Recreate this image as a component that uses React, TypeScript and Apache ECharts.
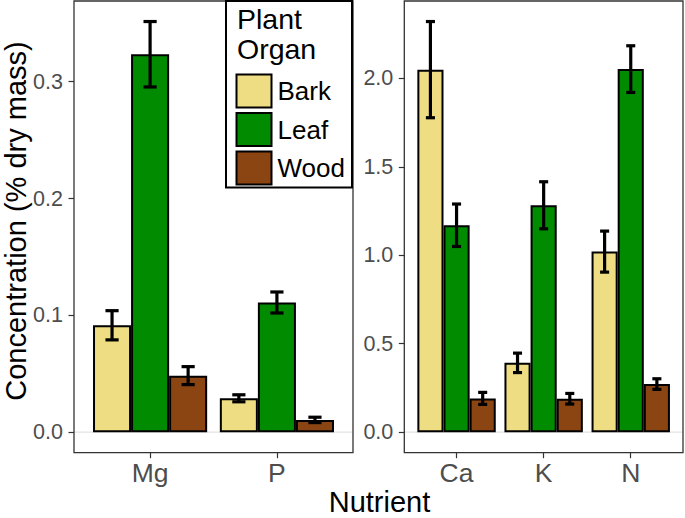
import React, { useEffect, useRef } from 'react';
import * as echarts from 'echarts';

const organs = ['Bark', 'Leaf', 'Wood'];
const organColors = ['#EEDD82', '#008B00', '#8B4513'];

const leftNutrients = ['Mg', 'P'];
const rightNutrients = ['Ca', 'K', 'N'];

// means (% dry mass)
const leftBark = [0.0915, 0.029];
const leftLeaf = [0.3235, 0.111];
const leftWood = [0.0484, 0.0105];
// standard errors
const leftBarkSe = [0.0125, 0.003];
const leftLeafSe = [0.028, 0.009];
const leftWoodSe = [0.0077, 0.0023];

const rightBark = [2.05, 0.392, 1.021];
const rightLeaf = [1.17, 1.283, 2.053];
const rightWood = [0.191, 0.189, 0.272];
const rightBarkSe = [0.272, 0.055, 0.116];
const rightLeafSe = [0.12, 0.133, 0.132];
const rightWoodSe = [0.034, 0.03, 0.03];

const leftTicks = [0, 0.1, 0.2, 0.3];
const rightTicks = [0, 0.5, 1.0, 1.5, 2.0];

const FONT = "'Liberation Sans', Arial, Helvetica, sans-serif";

// layout (pixels)
const W = 685;
const H = 518;
const PANEL_TOP = 1;
const PANEL_BOTTOM = 452.7;
const panels = [
  { x0: 74, x1: 353, n: 2 },
  { x0: 404.3, x1: 683, n: 3 },
];

function panelGrid(p: { x0: number; x1: number; n: number }) {
  const u = (p.x1 - p.x0) / (p.n - 1 + 1.2);
  return { left: p.x0 + 0.1 * u, width: p.n * u, offset: 0.1 * u };
}

function range(means: number[][], ses: number[][]) {
  let mx = 0;
  means.forEach((arr, i) => arr.forEach((m, j) => { mx = Math.max(mx, m + ses[i][j]); }));
  return { min: -0.05 * mx, max: 1.05 * mx };
}

const errRender = (pos: number) => (params: any, api: any) => {
  const xi = api.value(0);
  const m = api.value(1);
  const se = api.value(2);
  const band = api.size([1, 0])[0];
  const cx = api.coord([xi, m])[0] + (pos - 1) * band * 0.3;
  const yt = api.coord([xi, m + se])[1];
  const yb = api.coord([xi, m - se])[1];
  const hw = band * 0.052;
  const style = { stroke: '#000', lineWidth: 3.2, fill: null };
  return {
    type: 'group',
    children: [
      { type: 'line', shape: { x1: cx, y1: yt, x2: cx, y2: yb }, style },
      { type: 'line', shape: { x1: cx - hw, y1: yt, x2: cx + hw, y2: yt }, style },
      { type: 'line', shape: { x1: cx - hw, y1: yb, x2: cx + hw, y2: yb }, style },
    ],
  };
};

export default function App() {
  const ref = useRef<HTMLDivElement>(null);

  useEffect(() => {
    if (!ref.current) return;
    const chart = echarts.init(ref.current, undefined, { renderer: 'svg' });

    const gL = panelGrid(panels[0]);
    const gR = panelGrid(panels[1]);
    const rL = range([leftBark, leftLeaf, leftWood], [leftBarkSe, leftLeafSe, leftWoodSe]);
    const rR = range([rightBark, rightLeaf, rightWood], [rightBarkSe, rightLeafSe, rightWoodSe]);

    const leftMeans = [leftBark, leftLeaf, leftWood];
    const leftSes = [leftBarkSe, leftLeafSe, leftWoodSe];
    const rightMeans = [rightBark, rightLeaf, rightWood];
    const rightSes = [rightBarkSe, rightLeafSe, rightWoodSe];

    const series: any[] = [];
    [0, 1].forEach((gi) => {
      const means = gi === 0 ? leftMeans : rightMeans;
      const ses = gi === 0 ? leftSes : rightSes;
      organs.forEach((org, k) => {
        series.push({
          type: 'bar',
          name: org,
          xAxisIndex: gi,
          yAxisIndex: gi,
          data: means[k],
          barGap: '0%',
          barCategoryGap: '10%',
          itemStyle: { color: organColors[k], borderColor: '#000', borderWidth: 2 },
          emphasis: { disabled: true },
          z: 2,
        });
      });
      organs.forEach((org, k) => {
        series.push({
          type: 'custom',
          name: org + ' SE',
          xAxisIndex: gi,
          yAxisIndex: gi,
          renderItem: errRender(k),
          data: means[k].map((m, i) => [i, m, ses[k][i]]),
          encode: { x: 0, y: 1 },
          z: 5,
          silent: true,
        });
      });
    });

    const tickStyle = { color: '#333333', width: 1.2 };
    const yAxisBase = (gi: number, r: { min: number; max: number }, ticks: number[], offset: number) => ({
      type: 'value',
      gridIndex: gi,
      min: r.min,
      max: r.max,
      offset,
      axisLine: { show: false },
      splitLine: { show: false },
      axisTick: { show: true, customValues: ticks, length: 5.5, lineStyle: tickStyle },
      axisLabel: {
        customValues: ticks,
        formatter: (v: number) => v.toFixed(1),
        margin: 11,
        fontSize: 21.5,
        color: '#4D4D4D',
        fontFamily: FONT,
      },
    });
    const xAxisBase = (gi: number, cats: string[]) => ({
      type: 'category',
      gridIndex: gi,
      data: cats,
      axisLine: { show: false, onZero: false },
      axisTick: { show: true, alignWithLabel: true, length: 5.5, lineStyle: tickStyle },
      axisLabel: { fontSize: 26.5, color: '#4D4D4D', margin: 7, fontFamily: FONT },
    });

    const staticGraphics: any[] = [
      ...panels.map((p, i) => ({
        id: 'panel' + i,
        type: 'rect',
        z: 1,
        shape: { x: p.x0, y: PANEL_TOP, width: p.x1 - p.x0, height: PANEL_BOTTOM - PANEL_TOP },
        style: { fill: null, stroke: '#333333', lineWidth: 1.3 },
        silent: true,
      })),
      {
        id: 'legendBox',
        type: 'rect',
        z: 15,
        shape: { x: 226, y: 1, width: 126, height: 186.5 },
        style: { fill: '#ffffff', stroke: '#000000', lineWidth: 2 },
        silent: true,
      },
      {
        id: 'legendTitle',
        type: 'text',
        z: 16,
        x: 237,
        y: 3.5,
        style: {
          text: 'Plant\nOrgan',
          font: `28.5px ${FONT}`,
          fill: '#000',
          lineHeight: 30,
          align: 'left',
          verticalAlign: 'top',
        },
        silent: true,
      },
      {
        id: 'yTitle',
        type: 'text',
        z: 16,
        x: 16,
        y: 221,
        rotation: Math.PI / 2,
        style: {
          text: 'Concentration (% dry mass)',
          font: `29px ${FONT}`,
          fill: '#000',
          align: 'center',
          verticalAlign: 'middle',
        },
        silent: true,
      },
      {
        id: 'xTitle',
        type: 'text',
        z: 16,
        x: 379.5,
        y: 502,
        style: {
          text: 'Nutrient',
          font: `29px ${FONT}`,
          fill: '#000',
          align: 'center',
          verticalAlign: 'middle',
        },
        silent: true,
      },
    ];

    chart.setOption({
      animation: false,
      backgroundColor: '#ffffff',
      textStyle: { fontFamily: FONT },
      grid: [
        { left: gL.left, width: gL.width, top: PANEL_TOP, height: PANEL_BOTTOM - PANEL_TOP, containLabel: false },
        { left: gR.left, width: gR.width, top: PANEL_TOP, height: PANEL_BOTTOM - PANEL_TOP, containLabel: false },
      ],
      xAxis: [xAxisBase(0, leftNutrients), xAxisBase(1, rightNutrients)],
      yAxis: [yAxisBase(0, rL, leftTicks, gL.offset), yAxisBase(1, rR, rightTicks, gR.offset)],
      legend: {
        data: organs,
        orient: 'vertical',
        left: 235.5,
        top: 73.5,
        padding: 0,
        itemWidth: 35,
        itemHeight: 33,
        itemGap: 3.5,
        icon: 'rect',
        selectedMode: false,
        z: 20,
        textStyle: { fontSize: 26, color: '#000', fontFamily: FONT, padding: [0, 0, 0, 1] },
        itemStyle: { borderColor: '#000', borderWidth: 2 },
      },
      series,
      graphic: { elements: staticGraphics },
    });

    const y0L = chart.convertToPixel({ yAxisIndex: 0 }, 0) as number;
    const y0R = chart.convertToPixel({ yAxisIndex: 1 }, 0) as number;
    chart.setOption({
      graphic: {
        elements: [
          ...staticGraphics,
          {
            id: 'zero0', type: 'line', z: 0,
            shape: { x1: panels[0].x0, y1: y0L, x2: panels[0].x1, y2: y0L },
            style: { stroke: '#E3E3E3', lineWidth: 1.2 }, silent: true,
          },
          {
            id: 'zero1', type: 'line', z: 0,
            shape: { x1: panels[1].x0, y1: y0R, x2: panels[1].x1, y2: y0R },
            style: { stroke: '#E3E3E3', lineWidth: 1.2 }, silent: true,
          },
        ],
      },
    });

    return () => chart.dispose();
  }, []);

  return (
    <div
      ref={ref}
      style={{ position: 'fixed', left: 0, top: 0, width: W, height: H, background: '#fff' }}
    />
  );
}
